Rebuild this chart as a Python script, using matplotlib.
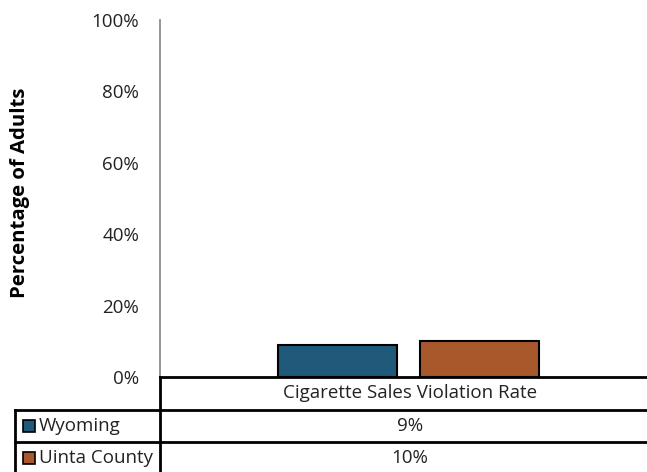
import matplotlib.pyplot as plt
from matplotlib.lines import Line2D
from matplotlib.patches import Rectangle

plt.rcParams['font.family'] = ['Open Sans', 'DejaVu Sans']

category = "Cigarette Sales Violation Rate"
series = ["Wyoming", "Uinta County"]
values = [9, 10]
labels = ["9%", "10%"]
colors = ["#1F5A7A", "#A8582A"]
yticks = [0, 20, 40, 60, 80, 100]

W, H = 647, 472
fig = plt.figure(figsize=(W / 100, H / 100), dpi=100)
fs = 13.5
tc = "#222222"

# plot area in pixels
x0, x1 = 160, 660
y_top, y_base = 20, 377
ax = fig.add_axes([x0 / W, (H - y_base) / H, (x1 - x0) / W, (y_base - y_top) / H])

bar_w = 0.238
centers = [0.355, 0.639]
for i, (s, v) in enumerate(zip(series, values)):
    ax.bar(centers[i], v, width=bar_w, color=colors[i],
           edgecolor="black", linewidth=1.5, label=s)

ax.set_xlim(0, 1)
ax.set_ylim(0, 100)
ax.set_yticks(yticks)
ax.set_yticklabels(["%d%%" % t for t in yticks], fontsize=fs, color=tc)
ax.tick_params(axis="y", length=0, pad=15)
ax.set_xticks([])
for sp in ["top", "right", "bottom"]:
    ax.spines[sp].set_visible(False)
ax.spines["left"].set_color("#8c8c8c")
ax.spines["left"].set_linewidth(1.3)
ax.set_ylabel("Percentage of Adults", fontsize=14.7, fontweight="bold", va="center")
ax.yaxis.set_label_coords((20 - x0) / (x1 - x0), (y_base - 193) / (y_base - y_top))

# data table below the axis
def px(x, y):
    return x / W, (H - y) / H

def hline(xa, xb, y):
    fig.add_artist(Line2D([xa / W, xb / W], [(H - y) / H] * 2, color="black", lw=2))

def vline(x, ya, yb):
    fig.add_artist(Line2D([x / W] * 2, [(H - ya) / H, (H - yb) / H], color="black", lw=2))

hline(160, W, 377)
hline(15, W, 410)
hline(15, W, 442)
vline(160, 377, H)
vline(15, 410, H)

fig.text(*px(410, 393), category, ha="center", va="center", fontsize=fs, color=tc)
row_y = [426, 458]
for i, s in enumerate(series):
    fig.add_artist(Rectangle(px(23, row_y[i] + 6), 12 / W, 12 / H,
                             facecolor=colors[i], edgecolor="black", lw=1.2))
    fig.text(*px(39, row_y[i]), s, ha="left", va="center", fontsize=fs, color=tc)
    fig.text(*px(410, row_y[i]), labels[i], ha="center", va="center", fontsize=fs,
             color=tc)

fig.savefig("out.png", dpi=100)
